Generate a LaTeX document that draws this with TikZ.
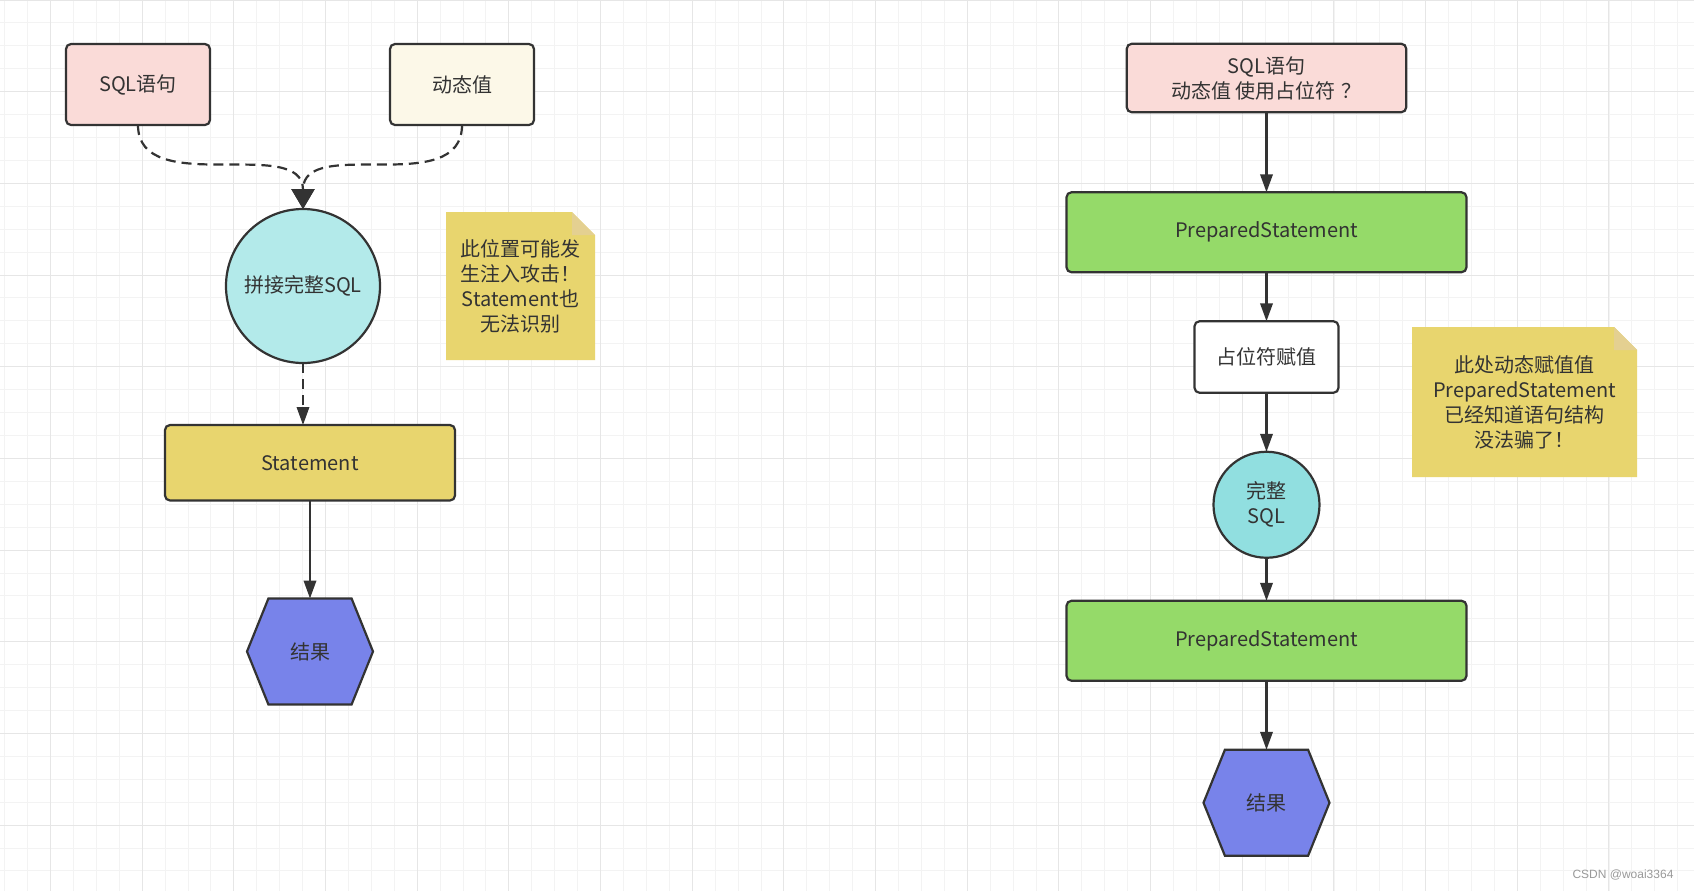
\documentclass[tikz,border=0pt]{standalone}
\usepackage{fontspec}
\setmainfont{Noto Sans CJK SC}
\newfontfamily\marksans{Liberation Sans}
\usepackage{tikz}
\usetikzlibrary{arrows.meta, positioning, shapes.symbols, backgrounds}

\definecolor{inkgray}{HTML}{333333}
\definecolor{sqlpink}{HTML}{FADBD8}
\definecolor{valcream}{HTML}{FCF8E8}
\definecolor{joincyan}{HTML}{B3EAEA}
\definecolor{fullcyan}{HTML}{91DFE0}
\definecolor{stmtyellow}{HTML}{E8D56E}
\definecolor{flapyellow}{HTML}{E4D091}
\definecolor{prepgreen}{HTML}{95DA69}
\definecolor{resblue}{HTML}{7883EA}
\definecolor{gridlight}{HTML}{F3F3F3}
\definecolor{griddark}{HTML}{E6E6E6}
\definecolor{markgray}{HTML}{999999}

\begin{document}
\begin{tikzpicture}[
    x=0.5pt, y=-0.5pt,
    font=\fontsize{10}{12.5}\selectfont,
    every node/.style={text=inkgray},
    box/.style={rectangle, draw=inkgray, line width=1.1pt, outer sep=0pt, rounded corners=2.5pt, align=center},
    sqlbox/.style={box, fill=sqlpink},
    valbox/.style={box, fill=valcream, minimum width=72pt, minimum height=40.5pt},
    stmtbox/.style={box, fill=stmtyellow, minimum width=145pt, minimum height=37.75pt},
    prepbox/.style={box, fill=prepgreen, minimum width=200pt, minimum height=40pt},
    fillbox/.style={box, fill=white, minimum width=72pt, minimum height=35.75pt},
    sqlcircle/.style={circle, draw=inkgray, line width=1.1pt, outer sep=0pt, align=center, inner sep=1pt},
    resulthex/.style={signal, signal to=west and east, signal pointer angle=136, draw=inkgray, line width=1.1pt, outer sep=0pt, fill=resblue, minimum width=63pt, minimum height=53pt},
    notebox/.style={rectangle, align=center, inner sep=0pt, outer sep=0pt},
    gridminor/.style={draw=gridlight, line width=0.5pt},
    gridmajor/.style={draw=griddark, line width=0.5pt},
    dashline/.style={draw=inkgray, line width=1.1pt, dash pattern=on 5pt off 3pt, -{Triangle[length=10pt, width=11.5pt]}},
    line/.style={draw=inkgray, line width=1.2pt, -{Triangle[length=9pt, width=6.2pt]}}
]

    \useasboundingbox (0,0) rectangle (1694,891);

    \begin{scope}[on background layer]
        \fill[white] (0,0) rectangle (1694,891);
        \foreach \gx in {0,...,73}
            \draw[gridminor] ({4.66+22.92*\gx},0) -- ++(0,891);
        \foreach \gy in {0,...,38}
            \draw[gridminor] (0,{22.92*\gy}) -- ++(1694,0);
        \foreach \gx in {0,...,17}
            \draw[gridmajor] ({50.5+91.67*\gx},0) -- ++(0,891);
        \foreach \gy in {0,...,9}
            \draw[gridmajor] (0,{91.67*\gy}) -- ++(1694,0);
    \end{scope}

    % Statement
    \node [sqlbox, minimum width=72pt, minimum height=40.5pt] (sqlA) at (138,84.5) {SQL语句};

    \node [valbox, right=90pt of sqlA] (dynA) {动态值};

    \node [sqlcircle, fill=joincyan, minimum size=77pt] (joinA) at (303,286) {拼接完整SQL};

    \node [notebox, minimum width=74.5pt, minimum height=74pt, right=33pt of joinA] (noteA) {
        此位置可能发\\生注入攻击！\\Statement也\\无法识别
    };

    \node [stmtbox, below=31pt of joinA, xshift=3.5pt] (stmtA) {Statement};

    \node [resulthex, below=49pt of stmtA] (resA) {结果};

    % PreparedStatement
    \node [sqlbox, minimum width=139.75pt, minimum height=34.25pt] (sqlB) at (1266.5,78) {SQL语句\\动态值 使用占位符\kern0.3em？};

    \node [prepbox, below=40pt of sqlB] (prepB1) {PreparedStatement};

    \node [fillbox, below=24.5pt of prepB1] (fillB) {占位符赋值};

    \node [sqlcircle, fill=fullcyan, minimum size=53pt, below=29.5pt of fillB] (fullB) {完整\\SQL};

    \node [prepbox, below=21.5pt of fullB] (prepB2) {PreparedStatement};

    \node [resulthex, below=34.5pt of prepB2] (resB) {结果};

    \node [notebox, minimum width=112.5pt, minimum height=75pt] (noteB) at (1524.5,402) {
        此处动态赋值值\\PreparedStatement\\已经知道语句结构\\没法骗了！
    };

    \node [font=\marksans\fontsize{6}{7}\selectfont, text=markgray] (wmark) at (1623,875) {CSDN @woai3364};

    \begin{scope}[on background layer]
        \foreach \nt in {noteA, noteB} {
            \fill[stmtyellow] (\nt.north west) -- ([xshift=-11.5pt]\nt.north east) -- ([yshift=-11.5pt]\nt.north east) -- (\nt.south east) -- (\nt.south west) -- cycle;
            \fill[flapyellow] ([xshift=-11.5pt]\nt.north east) -- ([xshift=-11.5pt, yshift=-11.5pt]\nt.north east) -- ([yshift=-11.5pt]\nt.north east) -- cycle;
        }
    \end{scope}

    \draw [dashline] (sqlA.south) .. controls +(0,74) and +(0,-74) .. (joinA.north);
    \draw [dashline] (dynA.south) .. controls +(0,74) and +(0,-74) .. (joinA.north);
    \draw [dashline, -{Triangle[length=9pt, width=6.2pt]}] (joinA.south) -- (joinA.south |- stmtA.north);
    \draw [line] (stmtA.south) -- (resA.north);

    \draw [line] (sqlB.south) -- (prepB1.north);
    \draw [line] (prepB1.south) -- (fillB.north);
    \draw [line] (fillB.south) -- (fullB.north);
    \draw [line] (fullB.south) -- (prepB2.north);
    \draw [line] (prepB2.south) -- (resB.north);

\end{tikzpicture}
\end{document}
